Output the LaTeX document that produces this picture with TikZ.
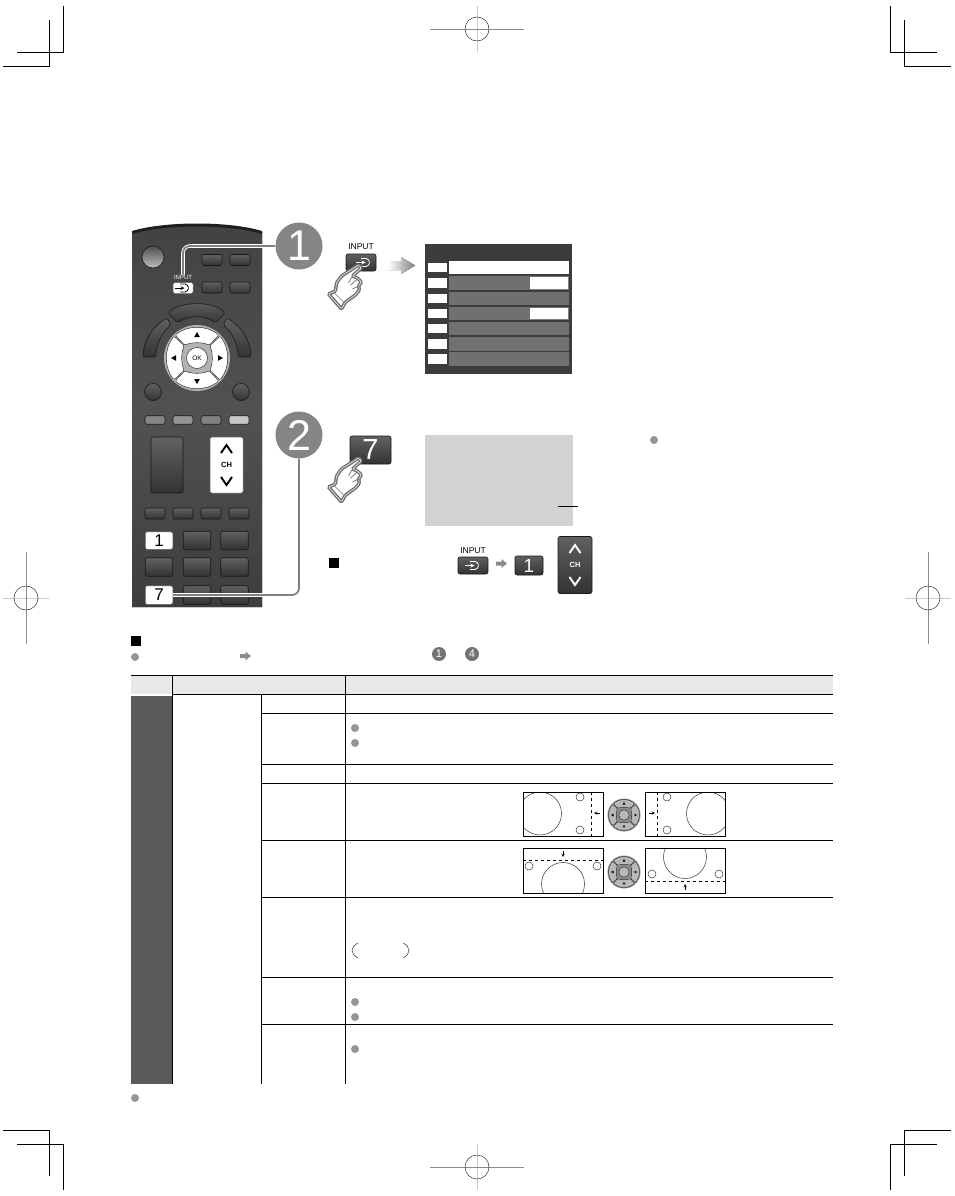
\documentclass[tikz,border=0pt]{standalone}
\usepackage{fontspec}
\setmainfont{Liberation Sans}
\usepackage{tikz}
\usetikzlibrary{calc}
\usetikzlibrary{arrows,shapes}
\definecolor{menudark}{HTML}{3C3C3C}
\definecolor{menubar}{HTML}{707070}
\definecolor{panelgray}{HTML}{D2D2D2}
\definecolor{headgray}{HTML}{E8E8E8}
\definecolor{columngray}{HTML}{5A5A5A}
\definecolor{dotgray}{HTML}{969696}
\tikzset{
  keybtn/.style={draw=black!90,line width=.6pt,rounded corners=2pt,top color=black!62,bottom color=black!80,inner sep=0pt},
  whitekey/.style={draw=black!60,line width=.5pt,fill=white,rounded corners=1.5pt,inner sep=0pt,text=black},
  badge/.style={circle,fill=black!48,text=white,inner sep=0pt,minimum size=47pt,font=\fontsize{43}{43}\selectfont},
  leader/.style={draw=black!50,line width=1.8pt,rounded corners=7pt,preaction={draw=white,line width=3.6pt}},
  dot/.style={circle,fill=dotgray,inner sep=0pt,minimum size=8pt},
  numdot/.style={circle,fill=black!55,text=white,inner sep=0pt,minimum size=14pt,font=\fontsize{11}{11}\selectfont},
  rule/.style={draw=black,line width=.8pt},
  crop/.style={draw=black,line width=.9pt},
  regdark/.style={draw=black!45,line width=.9pt},
  reglight/.style={draw=black!20,line width=1pt},
  thumbline/.style={draw=black!80,line width=.5pt},
  tinyarrow/.style={draw=black,line width=.5pt,-stealth},
  handpress/.pic={
    \draw[draw=black!55,line width=1.5pt,fill=white,double=white,double distance=.5pt,rounded corners=1.2pt]
      (0,-1) -- (3,2) -- (-6,10) -- (-1,12) -- (3,16) -- (0,20) -- (1,24) -- (-3,29) -- (-13,36) -- (-17,43)
      -- (-30,28) -- (-23,25) -- (-22,17) -- (-17,10) -- cycle;
    \draw[draw=black!55,line width=.7pt] (-24,27) -- (-14,37) (-6,10) -- (-10,17) (-1,13) -- (-8,19) (0,20) -- (-6,23);
  },
  inputglyph/.pic={
    \draw[pic actions,line width=.8pt,rounded corners=1.5pt] (-3,-4) -- (3.5,-4) -- (6,0) -- (3.5,4) -- (-3,4);
    \draw[pic actions,line width=.8pt,-stealth] (-8,0) -- (1.5,0);
  },
  chglyph/.pic={
    \draw[pic actions,line width=1.9pt] (-5.5,-12) -- (0,-20) -- (5.5,-12) (-5.5,12) -- (0,20) -- (5.5,12);
    \node[pic actions,draw=none,fill=none,inner sep=0pt,font=\fontsize{7.5}{7.5}\bfseries\selectfont] (chlabel) at (0,0) {CH};
  },
  navarrow/.pic={
    \fill[black!45] (-5.5,-2) -- (0,-2) -- (0,-4.5) -- (5.5,0) -- (0,4.5) -- (0,2) -- (-5.5,2) -- cycle;
  },
}
\newcommand{\dpadshape}[4]{%
  \begin{scope}[shift={(#1)},scale=#2]
    \fill[#3] (0,0) circle (33);
    \foreach \a in {0,90,180,270}
      \draw[rotate=\a,draw=black!80,line width=.5pt,fill=#4,rounded corners=1.5pt]
        (-22,-23) .. controls (-9,-33) and (9,-33) .. (22,-23) -- (12,-12.5) .. controls (6,-16) and (-6,-16) .. (-12,-12.5) -- cycle;
    \foreach \a in {0,90,180,270}
      \fill[rotate=\a,black] (-2.8,-21) -- (2.8,-21) -- (0,-26) -- cycle;
    \draw[draw=black!80,line width=.5pt,fill=#4] (0,0) circle (10.5);
  \end{scope}}
\newcommand{\thumbpanel}[5]{%
  \begin{scope}
    \clip (#1) rectangle (#2);
    \draw[thumbline] (#3) circle (21.5);
  \end{scope}
  \draw[thumbline] (#4) circle (4) (#5) circle (4);
  \draw[rule] (#1) rectangle (#2);}
\begin{document}
\begin{tikzpicture}[x=1pt,y=-1pt]
  \useasboundingbox (0,0) rectangle (954,1196);
  \draw[crop] (3,66) -- (49,66) -- (49,20) (17,52) -- (63,52) -- (63,6);
  \draw[crop] (951,66) -- (904,66) -- (904,20) (937,52) -- (890,52) -- (890,6);
  \draw[crop] (3,1130) -- (49,1130) -- (49,1176) (17,1144) -- (63,1144) -- (63,1190);
  \draw[crop] (951,1130) -- (904,1130) -- (904,1176) (937,1144) -- (890,1144) -- (890,1190);
  \foreach \x/\y in {477/29,477/1167} {
    \draw[reglight] (\x,\y-23) -- (\x,\y+23);
    \draw[regdark] (\x-47,\y) -- (\x+47,\y);
    \draw[thumbline] (\x,\y) circle (12);
  }
  \foreach \x/\y in {26/598,928/598} {
    \draw[reglight] (\x-23,\y) -- (\x+23,\y);
    \draw[regdark] (\x,\y-46) -- (\x,\y+46);
    \draw[thumbline] (\x,\y) circle (12);
  }
  \fill[top color=black!74,bottom color=black!76,middle color=black!68] (132,607) -- (132,232) .. controls (165,222) and (229,222) .. (262,232) -- (262,607) -- cycle;
  \fill[black!88] (132,234) .. controls (165,224) and (229,224) .. (262,234) -- (262,231) .. controls (229,221) and (165,221) .. (132,231) -- cycle;
  \draw[draw=black!90,line width=.6pt,top color=black!70,bottom color=black!25] (153,257) circle (11);
  \foreach \n/\x/\y in {topa/212/260,topb/240/260,midb/212/287.5,midc/240/287.5}
    \node[keybtn,minimum width=20pt,minimum height=11pt] (\n) at (\x,\y) {};
  \node[whitekey,minimum width=20pt,minimum height=11pt] (inputkey) at (183,288) {};
  \pic[draw=black] at (183,288) {inputglyph};
  \node[inner sep=0pt,text=white,font=\fontsize{6}{6}\selectfont] (inputlabel) at (183,277) {INPUT};
  \draw[keybtn] (168,313) .. controls (180,301) and (214,301) .. (225,313) -- (215,323) .. controls (205,315) and (189,315) .. (178,323) -- cycle;
  \draw[keybtn] (143,357) .. controls (144,338) and (155,325) .. (167,318) -- (171,325) .. controls (162,332) and (156,345) .. (156,357) -- cycle;
  \draw[keybtn] (251,357) .. controls (250,338) and (239,325) .. (227,318) -- (223,325) .. controls (232,332) and (238,345) .. (238,357) -- cycle;
  \dpadshape{197,358}{1}{black!30}{white}
  \node[inner sep=0pt,font=\fontsize{6.5}{6.5}\selectfont] (okkey) at (197,358) {OK};
  \foreach \n/\x in {roundl/153,roundr/241}
    \node[circle,keybtn,minimum size=17pt] (\n) at (\x,392) {};
  \foreach \n/\x/\s in {colora/155/48,colorb/183/42,colorc/211/50,colord/239/22}
    \node[draw=black!90,line width=.6pt,rounded corners=2pt,fill=black!\s,minimum width=20pt,minimum height=8.5pt,inner sep=0pt] (\n) at (\x,420) {};
  \node[keybtn,minimum width=32pt,minimum height=56pt] (volkey) at (167,465) {};
  \node[whitekey,minimum width=33pt,minimum height=56pt] (chkey) at (226.5,465) {};
  \pic[draw=black,text=black] at (226.5,465) {chglyph};
  \foreach \n/\x in {funa/155,funb/183,func/211,fund/239}
    \node[keybtn,minimum width=20pt,minimum height=11pt] (\n) at (\x,513.5) {};
  \foreach \n/\x/\y in {keytwo/197/540.5,keythree/234.5/540.5,keyfour/159/567,keyfive/197/567,keysix/234.5/567,keyeight/197/595,keynine/234.5/595}
    \node[keybtn,minimum width=27.5pt,minimum height=18.5pt] (\n) at (\x,\y) {};
  \node[whitekey,minimum width=27.5pt,minimum height=17.5pt,font=\fontsize{17}{17}\selectfont] (keyone) at (159,540.5) {1};
  \node[whitekey,minimum width=27.5pt,minimum height=18.5pt,font=\fontsize{17}{17}\selectfont] (keyseven) at (159,595) {7};
  \node[badge] (badgeone) at (299,246) {1};
  \node[badge] (badgetwo) at (299,435) {2};
  \draw[leader] (badgeone.west) -| (inputlabel.north);
  \draw[leader] (badgetwo.south) |- (keyseven.east);
  \node[inner sep=0pt,font=\fontsize{8.5}{8.5}\selectfont] (inputtop) at (361,247) {INPUT};
  \node[keybtn,minimum width=30pt,minimum height=17pt] (inputbtn) at (361,262.5) {};
  \pic[draw=white] at (364,262.5) {inputglyph};
  \pic at (358.5,266) {handpress};
  \fill[left color=white,right color=black!50] (388,261) -- (401,261) -- (401,257) -- (415,265.5) -- (401,274) -- (401,270) -- (388,270) -- cycle;
  \fill[menudark] (425,244) rectangle (572,374);
  \foreach \n/\t/\b in {1/261/274,2/276/290,3/292/305,4/307/320,5/322/335,6/337/351,7/352/366} {
    \fill[white] (428,\t+2) rectangle (447,\b-2);
    \fill[menubar] (449,\t) rectangle (569,\b);
  }
  \fill[white] (449,261) rectangle (569,274);
  \fill[white] (530,277) rectangle (568,289) (530,308) rectangle (568,319);
  \node[keybtn,minimum width=41pt,minimum height=28pt,text=white,font=\fontsize{29}{29}\selectfont] (sevenbtn) at (370.5,450) {7};
  \pic at (358.5,459) {handpress};
  \fill[panelgray] (425,435) rectangle (573,526);
  \draw[draw=black,line width=.6pt] (558,506) -- (578,506);
  \node[dot] (stepdot) at (654,440) {};
  \fill[black] (329,558) rectangle (339,568);
  \node[inner sep=0pt,font=\fontsize{8.5}{8.5}\selectfont] (inputlow) at (473,551) {INPUT};
  \node[keybtn,minimum width=30pt,minimum height=17pt] (inputsmall) at (473,565.5) {};
  \pic[draw=white] at (473,565.5) {inputglyph};
  \pic at (501.5,563.5) {navarrow};
  \node[keybtn,minimum width=28pt,minimum height=19pt,text=white,font=\fontsize{19}{19}\selectfont] (onebtn) at (529,565.5) {1};
  \node[keybtn,minimum width=34pt,minimum height=57pt] (chbtn) at (575,565) {};
  \pic[draw=white,text=white] at (575,565) {chglyph};
  \fill[black] (131,636) rectangle (141,646);
  \node[dot] (headdot) at (135,657) {};
  \pic at (245.5,656) {navarrow};
  \node[numdot] (stepone) at (439,654) {1};
  \node[numdot] (stepfour) at (472,654) {4};
  \fill[headgray] (131,675) rectangle (833,694);
  \fill[columngray] (131,695.5) rectangle (172,1084);
  \draw[rule] (131,675) -- (833,675) (172,694) -- (833,694);
  \draw[rule] (172,675) -- (172,1084) (345,675) -- (345,1084) (261,694) -- (261,1084);
  \foreach \y in {713,764,783,840,897,977,1024}
    \draw[rule] (261,\y) -- (833,\y);
  \foreach \y in {728,743,1002,1017,1049}
    \node[dot] at (355,\y) {};
  \node[dot] (footdot) at (135,1098) {};
  \draw[thumbline] (358,943) .. controls (350,947) and (350,954) .. (358,958);
  \draw[thumbline] (403,943) .. controls (411,947) and (411,954) .. (403,958);
  \thumbpanel{523,792}{603,836}{540,813.5}{580,797}{580,830}
  \thumbpanel{645,792}{725,836}{708,813.5}{667,797}{667,830}
  \thumbpanel{523,848}{603,893}{563,884}{529,866}{597,866}
  \thumbpanel{645,848}{725,893}{685,857}{652,874}{719,874}
  \draw[draw=black,line width=.7pt,dashed] (591,792) -- (591,836) (657,792) -- (657,836) (523,860) -- (603,860) (645,881) -- (725,881);
  \draw[tinyarrow] (600,813) -- (594,813);
  \draw[tinyarrow] (649,813) -- (655,813);
  \draw[tinyarrow] (563,851) -- (563,857);
  \draw[tinyarrow] (685,890) -- (685,884);
  \dpadshape{624,815}{.5}{black!45}{black!28}
  \dpadshape{624,872}{.5}{black!45}{black!28}
\end{tikzpicture}
\end{document}
